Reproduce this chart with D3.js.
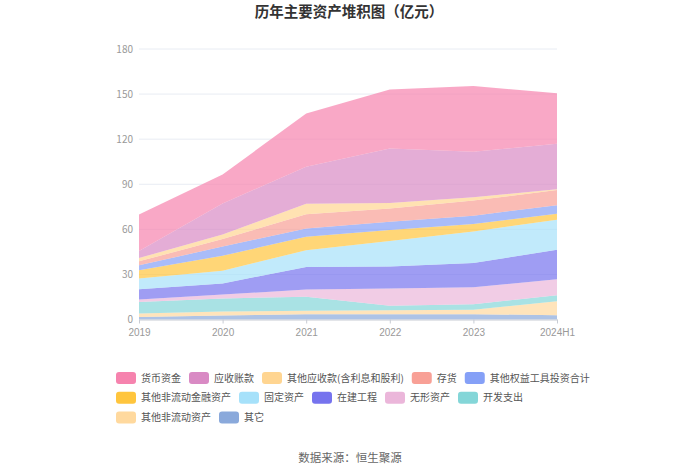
<!DOCTYPE html>
<html>
  <head>
    <meta charset="utf-8">
    <title>历年主要资产堆积图</title>
    <script src="https://d3js.org/d3.v7.min.js"></script>
    <style>
      body { margin: 0; background: #fff; }
      svg { display: block; font-family: "Noto Sans CJK SC", "Noto Sans", sans-serif; }
      .grid line { stroke: #e8ecf3; }
      .axisLabel { fill: #999; font-size: 10px; }
      .legendText { fill: #555; font-size: 10px; }
    </style>
  </head>
  <body>
    <svg id="chart" width="700" height="474">
      <g id="gridGroup" class="grid"></g>
      <g id="areaGroup"></g>
      <g id="axisGroup"></g>
      <g id="legendGroup"></g>
    </svg>
    <script>
      // categories (bottom of legend order = bottom of stack)
      years = ["2019", "2020", "2021", "2022", "2023", "2024H1"];
      seriesNames = ["货币资金", "应收账款", "其他应收款(含利息和股利)", "存货", "其他权益工具投资合计",
        "其他非流动金融资产", "固定资产", "在建工程", "无形资产", "开发支出", "其他非流动资产", "其它"];
      seriesColors = ["#f683ae", "#d98ac4", "#ffd591", "#f8a096", "#85a0f7",
        "#ffc53d", "#a6e1fa", "#7673ee", "#ebb6da", "#84d6d8", "#ffd99e", "#8aa9db"];
      // values (亿元)
      cash = [24.2, 19.3, 35.4, 39.3, 43.8, 33.5];
      receivables = [4.7, 20.7, 24.6, 36.2, 30.3, 30.3];
      otherReceivables = [2.2, 3.0, 7.0, 3.7, 2.1, 0.6];
      inventory = [2.6, 5.0, 9.4, 8.9, 10.1, 10.0];
      otherEquity = [3.3, 6.0, 5.6, 5.5, 5.6, 5.7];
      otherFinancial = [5.5, 10.1, 8.9, 7.2, 4.9, 4.0];
      fixedAssets = [7.1, 8.4, 11.1, 17.0, 21.0, 20.0];
      construction = [6.9, 7.4, 15.0, 14.7, 16.2, 19.6];
      intangible = [1.6, 2.6, 4.9, 11.5, 11.2, 10.6];
      development = [7.7, 8.7, 9.3, 2.9, 3.7, 4.0];
      otherNonCurrent = [2.3, 2.6, 2.3, 2.7, 3.0, 9.3];
      others = [1.7, 2.7, 3.5, 3.5, 3.5, 2.9];
      yTicks = [0, 30, 60, 90, 120, 150, 180];

      seriesValues = [cash, receivables, otherReceivables, inventory, otherEquity, otherFinancial,
        fixedAssets, construction, intangible, development, otherNonCurrent, others];

      // table for d3.stack
      table = years.map(function(y, i) {
        let row = { year: y };
        seriesNames.forEach(function(n, j) { row[n] = seriesValues[j][i]; });
        return row;
      });

      chart = d3.select("#chart");
      margin = { top: 49, right: 143, bottom: 154.5, left: 139 };
      width = 700;
      height = 474;

      // title and source
      chart.append("text")
        .attr("x", 349)
        .attr("y", 17)
        .attr("text-anchor", "middle")
        .attr("font-size", "14.5px")
        .attr("font-weight", "bold")
        .attr("fill", "#333")
        .text("历年主要资产堆积图（亿元）");
      chart.append("text")
        .attr("x", 350)
        .attr("y", 462)
        .attr("text-anchor", "middle")
        .attr("font-size", "11.5px")
        .attr("fill", "#666")
        .text("数据来源：恒生聚源");

      // scales
      x = d3.scalePoint()
        .domain(years)
        .range([margin.left, width - margin.right]);
      y = d3.scaleLinear()
        .domain([0, 180])
        .range([height - margin.bottom, margin.top]);

      // grid + y labels
      let grid = d3.select("#gridGroup");
      grid.selectAll("line")
        .data(yTicks.filter(function(d) { return d > 0; }))
        .join("line")
        .attr("x1", margin.left)
        .attr("x2", width - margin.right)
        .attr("y1", function(d) { return y(d); })
        .attr("y2", function(d) { return y(d); });
      grid.selectAll("text")
        .data(yTicks)
        .join("text")
        .attr("class", "axisLabel")
        .attr("x", margin.left - 6)
        .attr("y", function(d) { return y(d); })
        .attr("dy", "0.35em")
        .attr("text-anchor", "end")
        .text(function(d) { return d; });

      // stacked areas
      stack = d3.stack()
        .keys(seriesNames.slice().reverse());
      area = d3.area()
        .x(function(d) { return x(d.data.year); })
        .y0(function(d) { return y(d[0]); })
        .y1(function(d) { return y(d[1]); });
      d3.select("#areaGroup").selectAll("path")
        .data(stack(table))
        .join("path")
        .attr("d", area)
        .attr("fill", function(d) { return seriesColors[seriesNames.indexOf(d.key)]; })
        .attr("fill-opacity", 0.7);

      // x axis
      axis = d3.axisBottom(x)
        .tickSize(4)
        .tickSizeOuter(0);
      let axisGroup = d3.select("#axisGroup")
        .attr("transform", "translate(0," + y(0) + ")")
        .call(axis);
      axisGroup.select(".domain").attr("stroke", "#c8ccd4");
      axisGroup.selectAll(".tick line").attr("stroke", "#c8ccd4");
      axisGroup.selectAll(".tick text")
        .attr("class", "axisLabel")
        .attr("font-family", null)
        .attr("font-size", null)
        .attr("dy", "0.9em");

      // legend (flow layout)
      let legend = d3.select("#legendGroup");
      let lx = 116, ly = 378, rightLimit = 600;
      seriesNames.forEach(function(n, i) {
        let item = legend.append("g");
        let label = item.append("text")
          .attr("class", "legendText")
          .attr("x", 25)
          .attr("dy", "0.35em")
          .text(n);
        let w = 25 + label.node().getComputedTextLength();
        if (lx + w > rightLimit) {
          lx = 116;
          ly += 19.8;
        }
        item.attr("transform", "translate(" + lx + "," + ly + ")");
        item.insert("rect", "text")
          .attr("x", 0)
          .attr("y", -6)
          .attr("width", 20)
          .attr("height", 12)
          .attr("rx", 3)
          .attr("fill", seriesColors[i]);
        lx += w + 8;
      });
    </script>
  </body>
</html>
